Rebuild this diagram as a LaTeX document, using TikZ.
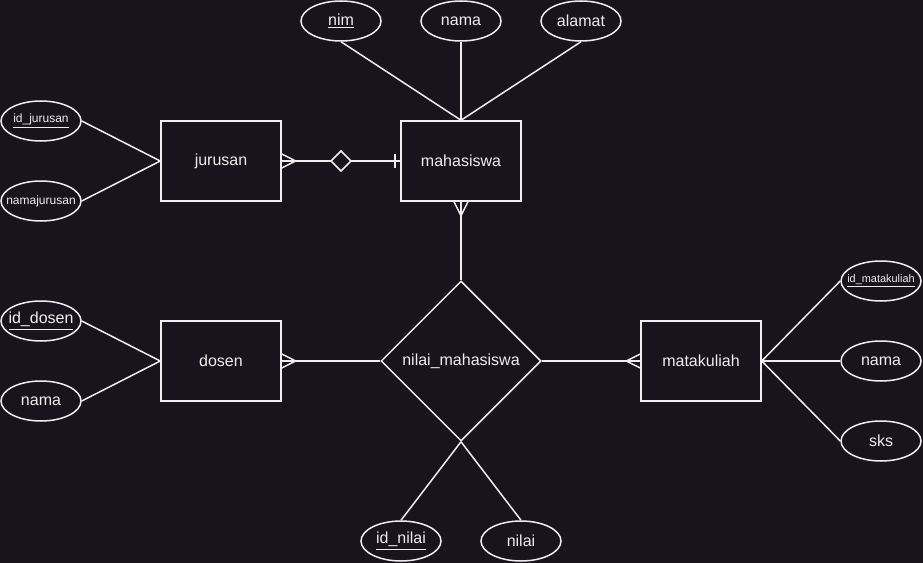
\documentclass[tikz,border=0pt]{standalone}
\usepackage{fontspec}
\setmainfont{Liberation Sans}
\usetikzlibrary{shapes.geometric}
\definecolor{bg}{HTML}{18141D}
\definecolor{ln}{HTML}{EEEEEE}
\begin{document}
\begin{tikzpicture}[x=0.75pt,y=-0.75pt,
  every node/.style={text=ln,font=\fontsize{12}{14}\selectfont},
  ent/.style={draw=ln,line width=1.5pt*0.75,rectangle,minimum width=120*0.75pt,minimum height=80*0.75pt,inner sep=0pt},
  attr/.style={draw=ln,line width=1.5pt*0.75,ellipse,minimum width=80*0.75pt,minimum height=40*0.75pt,inner sep=0pt},
  rel/.style={draw=ln,line width=1.5pt*0.75,diamond,minimum width=160*0.75pt,minimum height=160*0.75pt,inner sep=0pt,aspect=1},
  con/.style={draw=ln,line width=1.5pt*0.75},
  small/.style={font=\fontsize{9}{10}\selectfont},
  tiny/.style={font=\fontsize{8.2}{10}\selectfont}]
\fill[bg] (0,0) rectangle (923,563);
\useasboundingbox (0,0) rectangle (923,563);
% entities
\node[ent] (jur) at (221,161) {jurusan};
\node[ent] (mhs) at (461,161) {mahasiswa};
\node[ent] (dos) at (221,361) {dosen};
\node[ent] (mk) at (701,361) {matakuliah};
\node[rel] (nm) at (461,361) {nilai\_mahasiswa};
% attributes
\node[attr,label={center:\underline{nim}}] (nim) at (341,21) {};
\node[attr,label={center:nama}] (nama1) at (461,21) {};
\node[attr,label={center:alamat}] (alamat) at (581,21) {};
\node[attr,label={[small]center:\underline{id\_jurusan}}] (idj) at (41,121) {};
\node[attr,label={[small]center:namajurusan}] (nj) at (41,201) {};
\node[attr,label={center:\underline{id\_dosen}}] (idd) at (41,321) {};
\node[attr,label={center:nama}] (nama2) at (41,401) {};
\node[attr,label={[tiny]center:\underline{id\_matakuliah}}] (idm) at (881,281) {};
\node[attr,label={center:nama}] (nama3) at (881,361) {};
\node[attr,label={center:sks}] (sks) at (881,441) {};
\node[attr,label={center:\underline{id\_nilai}}] (idn) at (401,541) {};
\node[attr,label={center:nilai}] (nilai) at (521,541) {};
% attribute lines
\draw[con] (nim.south) -- (mhs.north);
\draw[con] (nama1.south) -- (mhs.north);
\draw[con] (alamat.south) -- (mhs.north);
\draw[con] (idj.east) -- (jur.west);
\draw[con] (nj.east) -- (jur.west);
\draw[con] (idd.east) -- (dos.west);
\draw[con] (nama2.east) -- (dos.west);
\draw[con] (mk.east) -- (idm.west);
\draw[con] (mk.east) -- (nama3.west);
\draw[con] (mk.east) -- (sks.west);
\draw[con] (idn.north) -- (nm.south);
\draw[con] (nilai.north) -- (nm.south);
% relationship lines
\draw[con] (jur.east) -- (mhs.west);
\draw[con] (mhs.south) -- (nm.north);
\draw[con] (dos.east) -- (nm.west);
\draw[con] (nm.east) -- (mk.west);
% crow's feet
\draw[con] ([shift={(0,-7)}]jur.east) -- ++(14,7) -- ([shift={(0,7)}]jur.east);
\draw[con] ([shift={(-7,0)}]mhs.south) -- ++(7,14) -- ([shift={(7,0)}]mhs.south);
\draw[con] ([shift={(0,-7)}]dos.east) -- ++(14,7) -- ([shift={(0,7)}]dos.east);
\draw[con] ([shift={(0,-7)}]mk.west) -- ++(-14,7) -- ([shift={(0,7)}]mk.west);
% diamond symbol and bar
\coordinate (dm) at (341,161);
\filldraw[con,fill=bg] (dm) ++(-10,0) -- ++(10,-10) -- ++(10,10) -- ++(-10,10) -- cycle;
\coordinate (bar) at (395,161);
\draw[con] (bar) ++(0,-7) -- ++(0,14);
\end{tikzpicture}
\end{document}
